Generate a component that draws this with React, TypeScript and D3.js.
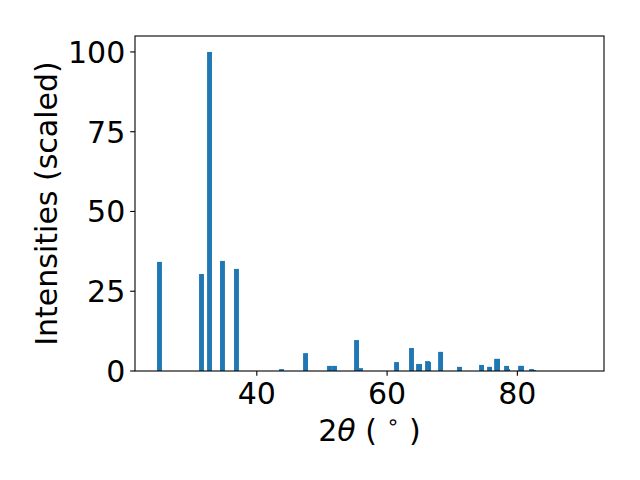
import React from "react";
import * as d3 from "d3";

const twoTheta = [25.06, 31.51, 32.74, 34.73, 36.88, 43.79, 47.48, 51.16, 51.93, 55.31, 55.92, 61.45, 63.75, 64.83, 64.98, 66.21, 66.37, 68.21, 71.12, 74.5, 75.73, 76.81, 76.96, 78.34, 78.5, 80.49, 80.64, 82.18, 82.49];
const intensity = [34.2, 30.4, 100, 34.5, 32.0, 0.6, 5.6, 1.6, 1.6, 9.7, 0.9, 2.8, 7.2, 2.2, 2.2, 3.1, 2.8, 6.0, 1.3, 1.9, 1.3, 3.8, 3.8, 1.6, 0.6, 1.6, 1.6, 0.6, 0.3];
const xTicks = [40, 60, 80];
const yTicks = [0, 25, 50, 75, 100];
const xDomain = [21.3, 93.3];
const yDomain = [0, 105];
const barWidth = 0.75;

const W = 640, H = 480;
const L = 135, R = 604, T = 36, B = 371;
const FONT = "'DejaVu Sans', sans-serif";
const FS = 30;
const FSY = 30;

export default function App() {
  const x = d3.scaleLinear().domain(xDomain).range([L, R]);
  const y = d3.scaleLinear().domain(yDomain).range([B, T]);
  const tickLen = 4.86;
  return (
    <svg width={W} height={H} style={{ position: "absolute", left: 0, top: 0, background: "#fff" }}>
      <rect x={0} y={0} width={W} height={H} fill="#fff" />
      {twoTheta.map((t, i) => (
        <rect
          key={i}
          x={x(t - barWidth / 2)}
          width={x(t + barWidth / 2) - x(t - barWidth / 2)}
          y={y(intensity[i])}
          height={y(0) - y(intensity[i])}
          fill="#1f77b4"
        />
      ))}
      <rect x={L} y={T} width={R - L} height={B - T} fill="none" stroke="#000" strokeWidth={1.1} />
      {xTicks.map((t) => (
        <g key={t}>
          <line x1={x(t)} x2={x(t)} y1={B} y2={B + tickLen} stroke="#000" strokeWidth={1.1} />
          <text x={x(t)} y={403.5} textAnchor="middle" fontFamily={FONT} fontSize={FS} fill="#000">
            {t}
          </text>
        </g>
      ))}
      {yTicks.map((t) => (
        <g key={t}>
          <line x1={L - tickLen} x2={L} y1={y(t)} y2={y(t)} stroke="#000" strokeWidth={1.1} />
          <text x={L - tickLen - 4.86} y={y(t) + 11} textAnchor="end" fontFamily={FONT} fontSize={FS} fill="#000">
            {t}
          </text>
        </g>
      ))}
      <text x={(L + R) / 2} y={441} textAnchor="middle" fontFamily={FONT} fontSize={FS} fill="#000">
        <tspan>2</tspan>
        <tspan fontStyle="italic">θ</tspan>
        <tspan> ( </tspan>
        <tspan fontSize={FS * 0.7} dy={-12}>∘</tspan>
        <tspan dy={12}> )</tspan>
      </text>
      <text
        transform={`translate(57,${(T + B) / 2}) rotate(-90)`}
        textAnchor="middle"
        fontFamily={FONT}
        fontSize={FSY}
        fill="#000"
      >
        Intensities (scaled)
      </text>
    </svg>
  );
}
